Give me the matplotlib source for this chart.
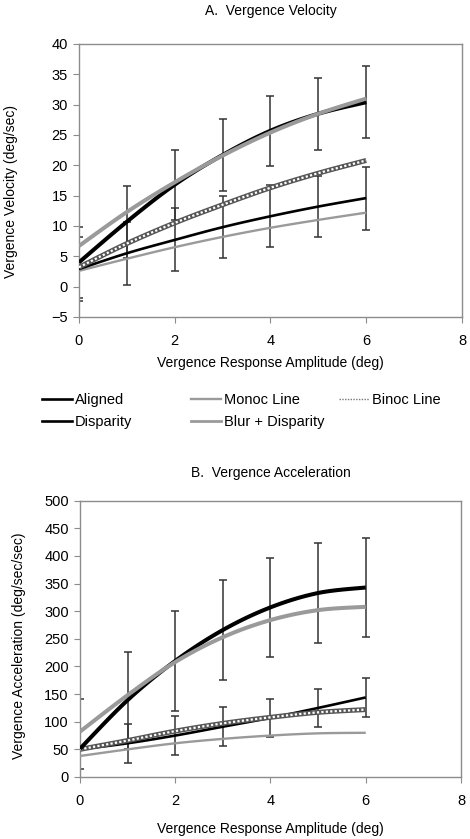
import matplotlib
matplotlib.use("Agg")
import matplotlib.pyplot as plt
from matplotlib.lines import Line2D
import numpy as np

plt.rcParams['font.family'] = ['Liberation Sans', 'DejaVu Sans']
plt.rcParams['font.size'] = 10

amp = [0, 1, 2, 3, 4, 5, 6]

# A. vergence velocity (deg/sec)
vel_aligned = [4.0, 10.7, 16.8, 21.7, 25.7, 28.5, 30.4]
vel_aligned_err = [5.8, 5.9, 5.8, 5.9, 5.8, 5.9, 5.9]
vel_disparity = [2.9, 5.5, 7.7, 9.8, 11.6, 13.2, 14.6]
vel_disparity_err = [5.3, 5.2, 5.2, 5.1, 5.1, 5.1, 5.2]
vel_monoc = [2.6, 4.6, 6.5, 8.2, 9.7, 11.0, 12.2]
vel_binoc = [3.2, 7.1, 10.5, 13.5, 16.3, 18.7, 20.8]
vel_blur = [6.7, 12.3, 17.2, 21.6, 25.4, 28.5, 31.0]

# B. vergence acceleration (deg/sec/sec)
acc_aligned = [51, 139, 210, 266, 307, 333, 343]
acc_aligned_err = [90, 88, 90, 90, 89, 90, 90]
acc_disparity = [50, 61, 75, 91, 107, 125, 144]
acc_disparity_err = [35, 35, 35, 35, 35, 35, 35]
acc_monoc = [38, 50, 61, 69, 75, 79, 80]
acc_binoc = [50, 66, 83, 97, 108, 117, 122]
acc_blur = [82, 148, 208, 253, 284, 302, 308]

GRAY = '#9a9a9a'
SPINE = '#8c8c8c'
FS = 10


def smooth(x, y, n=20):
    # Excel-style smoothed line (Catmull-Rom through the points)
    x = np.asarray(x, float)
    y = np.asarray(y, float)
    px = np.concatenate([[x[0]], x, [x[-1]]])
    py = np.concatenate([[y[0]], y, [y[-1]]])
    xs, ys = [], []
    t = np.linspace(0, 1, n)
    for i in range(1, len(px) - 2):
        p0, p1, p2, p3 = [np.array([px[j], py[j]]) for j in (i - 1, i, i + 1, i + 2)]
        c1 = p1 + (p2 - p0) / 6
        c2 = p2 - (p3 - p1) / 6
        b = ((1 - t) ** 3)[:, None] * p1 + (3 * (1 - t) ** 2 * t)[:, None] * c1 \
            + (3 * (1 - t) * t ** 2)[:, None] * c2 + (t ** 3)[:, None] * p2
        xs.extend(b[:, 0])
        ys.extend(b[:, 1])
    return np.array(xs), np.array(ys)


def panel(ax, aligned, a_err, disp, d_err, monoc, binoc, blur, title, ylabel, ylim, yticks):
    ax.errorbar(amp, aligned, yerr=a_err, fmt='none', ecolor='#333333', elinewidth=1.1,
                capsize=3, capthick=1.1, zorder=2)
    ax.errorbar(amp, disp, yerr=d_err, fmt='none', ecolor='#333333', elinewidth=1.1,
                capsize=3, capthick=1.1, zorder=2)
    sx, sy = smooth(amp, monoc)
    ax.plot(sx, sy, color=GRAY, lw=1.7, zorder=3, solid_capstyle='butt')
    sx, sy = smooth(amp, disp)
    ax.plot(sx, sy, color='black', lw=1.9, zorder=3, solid_capstyle='butt')
    sx, sy = smooth(amp, binoc)
    ax.plot(sx, sy, color='#555555', lw=3.6, zorder=4, solid_capstyle='butt')
    ax.plot(sx, sy, color='white', lw=1.6, ls=(0, (1, 1)), zorder=4)
    sx, sy = smooth(amp, aligned)
    ax.plot(sx, sy, color='black', lw=2.9, zorder=5, solid_capstyle='butt')
    sx, sy = smooth(amp, blur)
    ax.plot(sx, sy, color=GRAY, lw=2.9, zorder=6, solid_capstyle='butt')

    ax.set_xlim(0, 8)
    ax.set_ylim(*ylim)
    ax.set_xticks([0, 2, 4, 6, 8])
    ax.set_yticks(yticks)
    for s in ax.spines.values():
        s.set_color(SPINE)
        s.set_linewidth(1.0)
    ax.tick_params(direction='out', length=4, color=SPINE, labelsize=10.5, pad=4)
    ax.tick_params(axis='x', pad=8)
    ax.set_xlabel('Vergence Response Amplitude (deg)', fontsize=FS, labelpad=6)
    ax.set_ylabel(ylabel, fontsize=FS)
    ax.set_title(title, fontsize=FS)


fig = plt.figure(figsize=(4.7, 8.39), dpi=100)
axA = fig.add_axes([0.168, 0.6222, 0.815, 0.3254])
axB = fig.add_axes([0.170, 0.0739, 0.811, 0.3293])

panel(axA, vel_aligned, vel_aligned_err, vel_disparity, vel_disparity_err, vel_monoc,
      vel_binoc, vel_blur, 'A.  Vergence Velocity', 'Vergence Velocity (deg/sec)',
      (-5, 40), range(-5, 41, 5))
panel(axB, acc_aligned, acc_aligned_err, acc_disparity, acc_disparity_err, acc_monoc,
      acc_binoc, acc_blur, 'B.  Vergence Acceleration', 'Vergence Acceleration (deg/sec/sec)',
      (0, 500), range(0, 501, 50))
axA.set_title('A.  Vergence Velocity', fontsize=FS, pad=21)
axB.set_title('B.  Vergence Acceleration', fontsize=FS, pad=17)
axA.yaxis.set_label_coords(-0.160, 0.458)
axB.yaxis.set_label_coords(-0.142, 0.475)
axB.set_xlabel('Vergence Response Amplitude (deg)', fontsize=FS, labelpad=10)

# legend in three columns
col1 = [Line2D([], [], color='black', lw=1.9), Line2D([], [], color='black', lw=1.9)]
col2 = [Line2D([], [], color=GRAY, lw=1.7), Line2D([], [], color=GRAY, lw=2.0)]
col3 = [Line2D([], [], color='#777777', lw=1.0, ls=(0, (1, 1)))]
kw = dict(frameon=False, handlelength=2.05, handletextpad=0.2, labelspacing=0.5,
          fontsize=10.5, loc='upper left', borderaxespad=0, borderpad=0)
fig.legend(col1, ['Aligned', 'Disparity'], bbox_to_anchor=(0.09, 0.531), **kw)
fig.legend(col2, ['Monoc Line', 'Blur + Disparity'], bbox_to_anchor=(0.407, 0.531), **kw)
fig.legend(col3, ['Binoc Line'], bbox_to_anchor=(0.722, 0.531), **kw)

fig.savefig('out.png', dpi=100)
